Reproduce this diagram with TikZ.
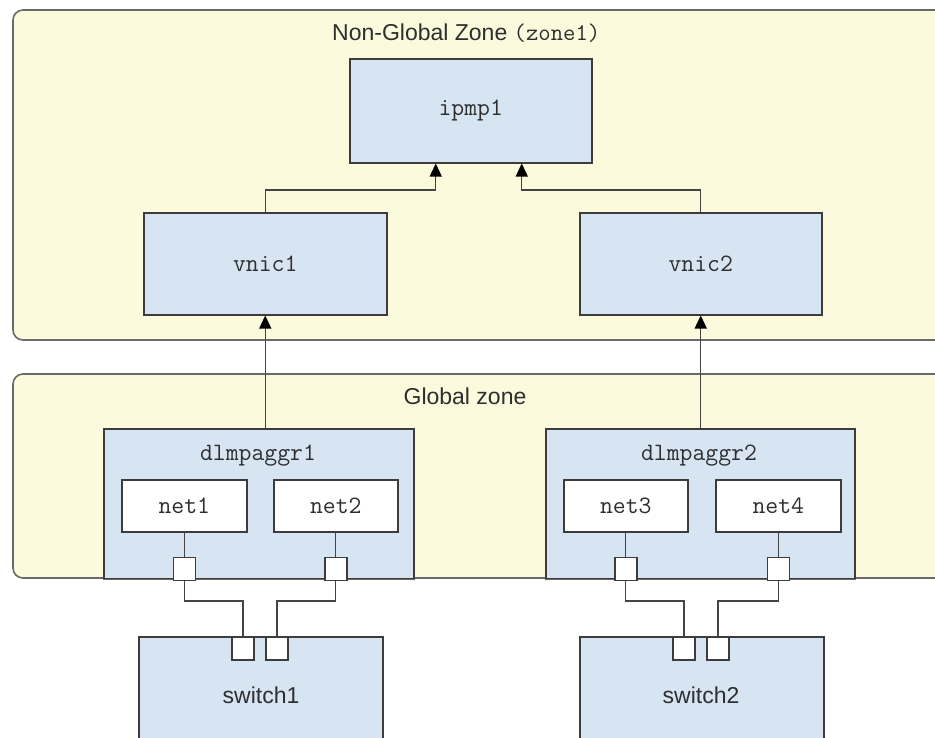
\documentclass[tikz,border=0pt]{standalone}
\usepackage{fontspec}
\setmainfont{Liberation Sans}
\setsansfont{Liberation Sans}
\usetikzlibrary{arrows.meta,calc}
\definecolor{zonef}{HTML}{FCFADC}
\definecolor{zoned}{HTML}{6A6A6A}
\definecolor{bluef}{HTML}{D7E5F3}
\definecolor{boxd}{HTML}{3C3C3C}
\definecolor{linec}{HTML}{444444}
\definecolor{txt}{HTML}{2E2E2E}
\tikzset{
  zone/.style={draw=zoned, fill=zonef, line width=1.6pt, rounded corners=10pt},
  bbox/.style={draw=boxd, fill=bluef, line width=1.5pt, inner sep=0pt, anchor=north west, font=\fontsize{25}{27}\selectfont\ttfamily, text=txt},
  wbox/.style={bbox, fill=white},
  port/.style={draw=boxd, fill=white, line width=1.5pt, inner sep=0pt, anchor=north, minimum width=22pt, minimum height=23pt},
  conn/.style={draw=linec, line width=1.4pt},
  arr/.style={conn, -{Triangle[width=12pt,length=13pt,color=black]}},
  sanslbl/.style={font=\fontsize{23}{25}\selectfont\sffamily, text=txt, inner sep=0pt},
  monolbl/.style={font=\fontsize{25}{27}\selectfont\ttfamily, text=txt, inner sep=0pt},
}
\begin{document}
\begin{tikzpicture}[x=1pt,y=-1pt]
\useasboundingbox (0,0) rectangle (935,737);
\clip (0,0) rectangle (935,737);
\fill[white] (0,0) rectangle (935,737);
% zones
\draw[zone] (13,10) rectangle (980,340);
\draw[zone] (13,374) rectangle (980,578);
\node[anchor=west, inner sep=0pt] (title) at (332,33) {\fontsize{23}{25}\selectfont\sffamily\color{txt}Non-Global Zone \fontsize{24}{26}\selectfont\ttfamily(zone1)};
\node[sanslbl] (gz) at (465,396) {Global zone};
% upper boxes
\node[bbox, minimum width=242pt, minimum height=104pt] (ipmp) at (349,58) {ipmp1};
\node[bbox, minimum width=243pt, minimum height=102pt] (vnic1) at (143,212) {vnic1};
\node[bbox, minimum width=242pt, minimum height=102pt] (vnic2) at (579,212) {vnic2};
% aggregations
\node[bbox, minimum width=310pt, minimum height=150pt] (dl1) at (103,428) {};
\node[bbox, minimum width=309pt, minimum height=150pt] (dl2) at (545,428) {};
\node[monolbl] (dl1l) at (258,456) {dlmpaggr1};
\node[monolbl] (dl2l) at (699,456) {dlmpaggr2};
\draw[zoned, line width=1.6pt] (dl1.south west) -- (dl1.south east);
\draw[zoned, line width=1.6pt] (dl2.south west) -- (dl2.south east);
\node[wbox, minimum width=125pt, minimum height=52pt] (n1) at (121,479) {net1};
\node[wbox, minimum width=124pt, minimum height=52pt] (n2) at (273,479) {net2};
\node[wbox, minimum width=124pt, minimum height=52pt] (n3) at (563,479) {net3};
\node[wbox, minimum width=125pt, minimum height=52pt] (n4) at (715,479) {net4};
\node[port] (p1) at ($(n1.south)+(0,24)$) {};
\node[port] (p2) at ($(n2.south)+(0,24)$) {};
\node[port] (p3) at ($(n3.south)+(0,24)$) {};
\node[port] (p4) at ($(n4.south)+(0,24)$) {};
% switches
\node[bbox, minimum width=244pt, minimum height=130pt] (sw1) at (138,636) {};
\node[bbox, minimum width=244pt, minimum height=130pt] (sw2) at (579,636) {};
\node[sanslbl] (sw1l) at (261,695) {switch1};
\node[sanslbl] (sw2l) at (701,695) {switch2};
\node[port] (s1a) at (243,636) {};
\node[port] (s1b) at (277,636) {};
\node[port] (s2a) at (684,636) {};
\node[port] (s2b) at (718,636) {};
% connectors
\draw[conn] (n1.south) -- (p1.north);
\draw[conn] (n2.south) -- (p2.north);
\draw[conn] (n3.south) -- (p3.north);
\draw[conn] (n4.south) -- (p4.north);
\draw[conn] (p1.south) -- ++(0,20) -| (s1a.north);
\draw[conn] (p2.south) -- ++(0,20) -| (s1b.north);
\draw[conn] (p3.south) -- ++(0,20) -| (s2a.north);
\draw[conn] (p4.south) -- ++(0,20) -| (s2b.north);
\draw[arr] (dl1.north -| vnic1.south) -- (vnic1.south);
\draw[arr] (dl2.north -| vnic2.south) -- (vnic2.south);
\draw[arr] (vnic1.north) -- ++(0,-22) -| ($(ipmp.south)+(-35,0)$);
\draw[arr] (vnic2.north) -- ++(0,-22) -| ($(ipmp.south)+(51,0)$);
\end{tikzpicture}
\end{document}
